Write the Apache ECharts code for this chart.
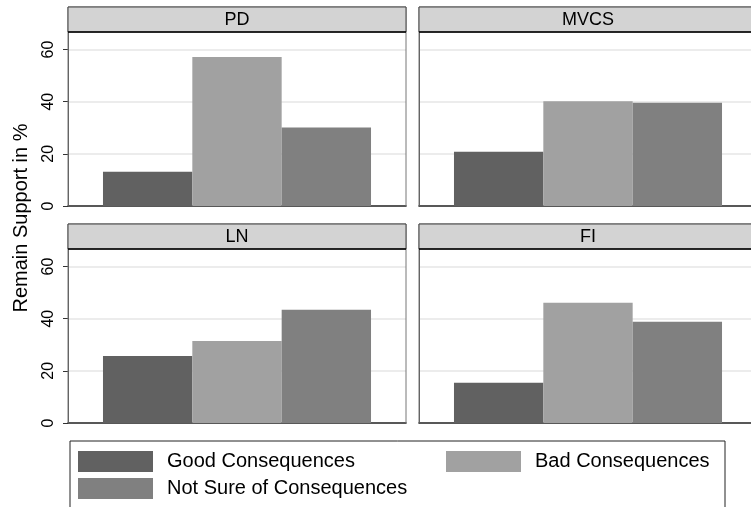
<!DOCTYPE html>
<html>
<head>
<meta charset="utf-8">
<script src="https://cdn.jsdelivr.net/npm/echarts@6/dist/echarts.min.js"></script>
<style>
  html, body { margin: 0; padding: 0; background: #fff; overflow: hidden; }
  /* a little wider than the window: the right panels run off the edge */
  #chart { width: 760px; height: 507px; }
</style>
</head>
<body>
<div id="chart"></div>
<script>
const panels = ['PD', 'MVCS', 'LN', 'FI'];
const seriesNames = ['Good Consequences', 'Bad Consequences', 'Not Sure of Consequences'];
const goodVals = [13.1, 20.8, 25.7, 15.4];
const badVals = [57.1, 40.2, 31.4, 46.1];
const notSureVals = [30.1, 39.6, 43.4, 38.8];
const yTicks = [0, 20, 40, 60];
const yMax = 66.7;
const colors = ['#616161', '#a1a1a1', '#808080'];

const FONT = 'Liberation Sans, Arial, Helvetica, sans-serif';

// panel boxes (plot area), header sits above each
const boxes = [
  { left: 68, top: 32 },
  { left: 419, top: 32 },
  { left: 68, top: 249 },
  { left: 419, top: 249 },
];
const boxW = 338;
const boxH = 174;
const headH = 25;

const valuesBySeries = [goodVals, badVals, notSureVals];

const grids = boxes.map(b => ({ left: b.left, top: b.top, width: boxW, height: boxH }));

const xAxes = panels.map((p, i) => ({
  type: 'category',
  gridIndex: i,
  data: [p],
  axisLine: { show: true, lineStyle: { color: '#000', width: 1.5 } },
  axisTick: { show: false },
  axisLabel: { show: false },
}));

const yAxes = panels.map((p, i) => ({
  type: 'value',
  gridIndex: i,
  min: 0,
  max: yMax,
  interval: 20,
  axisLine: { show: true, lineStyle: { color: '#555', width: 1 } },
  axisTick: {
    show: i % 2 === 0,
    length: 5,
    lineStyle: { color: '#333' },
    customValues: yTicks,
  },
  axisLabel: {
    show: i % 2 === 0,
    rotate: 90,
    margin: 11,
    fontSize: 16,
    color: '#000',
    fontFamily: FONT,
    customValues: yTicks,
  },
  splitLine: { show: true, lineStyle: { color: '#e6e6e6', width: 1.5 } },
}));

const series = [];
panels.forEach((p, i) => {
  seriesNames.forEach((name, k) => {
    series.push({
      name: name,
      type: 'bar',
      xAxisIndex: i,
      yAxisIndex: i,
      data: [valuesBySeries[k][i]],
      barGap: '0%',
      barCategoryGap: '20.7%',
      itemStyle: { color: colors[k] },
      silent: true,
      z: 3,
    });
  });
});

const graphics = [];
boxes.forEach((b, i) => {
  graphics.push({
    type: 'rect',
    shape: { x: b.left, y: b.top - headH, width: boxW, height: boxH + headH },
    style: { fill: 'none', stroke: '#777', lineWidth: 1 },
    z: 1,
  });
  graphics.push({
    type: 'rect',
    shape: { x: b.left, y: b.top - headH, width: boxW, height: headH },
    style: { fill: '#d3d3d3', stroke: '#444', lineWidth: 1 },
    z: 5,
  });
  graphics.push({
    type: 'line',
    shape: { x1: b.left, y1: b.top, x2: b.left + boxW, y2: b.top },
    style: { stroke: '#000', lineWidth: 1.5 },
    z: 6,
  });
  graphics.push({
    type: 'text',
    x: b.left + boxW / 2,
    y: b.top - headH / 2 + 0.5,
    style: {
      text: panels[i],
      fontSize: 18,
      fontFamily: FONT,
      fill: '#000',
      align: 'center',
      verticalAlign: 'middle',
    },
    z: 7,
  });
});

// y axis title
graphics.push({
  type: 'text',
  x: 21,
  y: 218,
  rotation: Math.PI / 2,
  style: {
    text: 'Remain Support in %',
    fontSize: 20,
    fontFamily: FONT,
    fill: '#000',
    align: 'center',
    verticalAlign: 'middle',
  },
});

// legend frame
graphics.push({
  type: 'rect',
  shape: { x: 70, y: 441, width: 655, height: 80 },
  style: { fill: 'none', stroke: '#222', lineWidth: 1 },
});

const legendPos = [
  { left: 78, top: 451 },
  { left: 446, top: 451 },
  { left: 78, top: 478 },
];

const legends = seriesNames.map((name, k) => ({
  data: [name],
  left: legendPos[k].left,
  top: legendPos[k].top,
  itemWidth: 75,
  itemHeight: 21,
  itemGap: 0,
  icon: 'rect',
  selectedMode: false,
  padding: 0,
  textStyle: { fontSize: 20, fontFamily: FONT, color: '#000', padding: [3, 0, 0, 9] },
}));

const chart = echarts.init(document.getElementById('chart'), null, { renderer: 'canvas' });
chart.setOption({
  animation: false,
  backgroundColor: '#fff',
  color: colors,
  grid: grids,
  xAxis: xAxes,
  yAxis: yAxes,
  series: series,
  legend: legends,
  graphic: graphics,
});
</script>
</body>
</html>
